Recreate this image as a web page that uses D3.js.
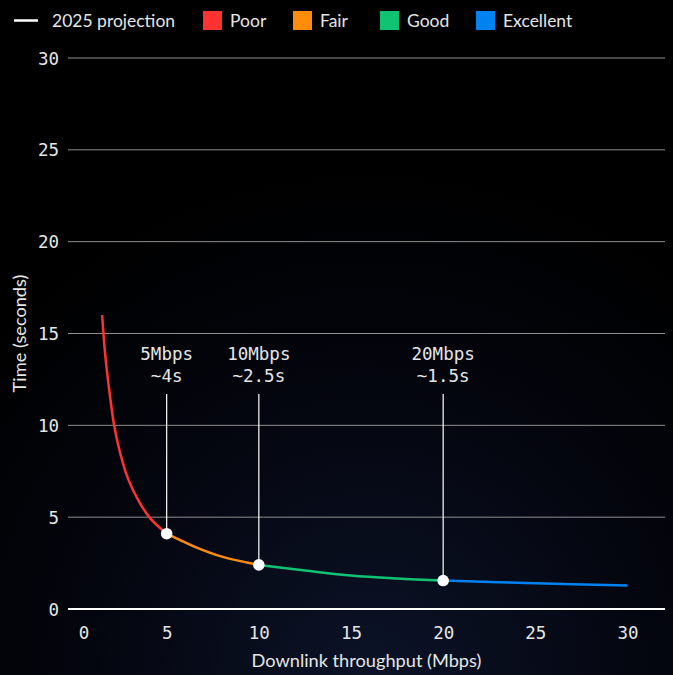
<!DOCTYPE html>
<html>
<head>
<meta charset="utf-8">
<script src="https://cdn.jsdelivr.net/npm/d3@7/dist/d3.min.js"></script>
<style>
  html, body { margin: 0; padding: 0; background: #000; }
  svg { display: block; }
</style>
</head>
<body>
<svg id="chart" width="673" height="675"></svg>
<script>
// ---- data ----
const throughput = [1.5, 1.6, 1.7, 1.9, 2.15, 2.45, 2.9, 3.5, 4.1, 5, 6.5, 8, 10, 12.5, 15, 17.5, 20, 25, 30];
const timeSec    = [16.0, 14.6, 13.5, 11.8, 10.0, 8.6, 7.1, 5.85, 4.95, 4.1, 3.4, 2.85, 2.4, 2.1, 1.82, 1.66, 1.55, 1.4, 1.28];

const categories = ["Poor", "Fair", "Good", "Excellent"];
const catColors  = ["#ff3232", "#ff8c0a", "#0fc373", "#0082f0"];
const catStart   = [1.5, 5, 10, 20];
const catEnd     = [5, 10, 20, 30];

const annotX     = [5, 10, 20];
const annotLine1 = ["5Mbps", "10Mbps", "20Mbps"];
const annotLine2 = ["~4s", "~2.5s", "~1.5s"];

const xTicks = [0, 5, 10, 15, 20, 25, 30];
const yTicks = [0, 5, 10, 15, 20, 25, 30];

const legendLineLabel = "2025 projection";
const xTitle = "Downlink throughput (Mbps)";
const yTitle = "Time (seconds)";

// ---- setup ----
const W = 673, H = 675;
const svg = d3.select("#chart");
const sansFont = "Lato, 'Noto Sans', sans-serif";
const monoFont = "'DejaVu Sans Mono', monospace";

// background
const defs = svg.append("defs");
const rg = defs.append("radialGradient").attr("id", "bg")
  .attr("cx", "0.55").attr("cy", "1.0").attr("r", "0.75");
rg.append("stop").attr("offset", "0%").attr("stop-color", "#0c1328");
rg.append("stop").attr("offset", "55%").attr("stop-color", "#04060f");
rg.append("stop").attr("offset", "100%").attr("stop-color", "#000000");
svg.append("rect").attr("width", W).attr("height", H).attr("fill", "url(#bg)");

const plotLeft = 68, plotRight = 665;
const x = d3.scaleLinear().domain([0, 30]).range([74.5, 627.5]);
const y = d3.scaleLinear().domain([0, 30]).range([609, 58]);

// gridlines
svg.append("g").selectAll("line").data(yTicks.filter(d => d !== 0)).join("line")
  .attr("x1", plotLeft).attr("x2", plotRight)
  .attr("y1", d => y(d)).attr("y2", d => y(d))
  .attr("stroke", "#8f8f8f").attr("stroke-width", 1);

// y axis labels
const yAxis = d3.axisLeft(y).tickValues(yTicks).tickSize(0).tickPadding(0).tickFormat(d3.format("d"));
const gy = svg.append("g").attr("transform", `translate(59,0)`).call(yAxis);
gy.select(".domain").remove();
gy.selectAll("text").attr("font-family", monoFont).attr("font-size", 17.5)
  .attr("fill", "#e6e6e6").attr("text-anchor", "end").attr("dy", "0.35em");

// x axis labels
const xAxis = d3.axisBottom(x).tickValues(xTicks).tickSize(0).tickPadding(0).tickFormat(d3.format("d"));
const gx = svg.append("g").attr("transform", `translate(0,633)`).call(xAxis);
gx.select(".domain").remove();
gx.selectAll("text").attr("font-family", monoFont).attr("font-size", 17.5)
  .attr("fill", "#e6e6e6").attr("dy", "0.35em")
  .attr("dx", d => d === 0 ? 9 : 0);

// zero baseline
svg.append("line").attr("x1", plotLeft).attr("x2", plotRight)
  .attr("y1", y(0)).attr("y2", y(0)).attr("stroke", "#ffffff").attr("stroke-width", 2);

// axis titles
svg.append("text").attr("x", (plotLeft + plotRight) / 2).attr("y", 661)
  .attr("text-anchor", "middle").attr("dy", "0.35em")
  .attr("font-family", sansFont).attr("font-size", 18.2).attr("fill", "#e6e6e6")
  .text(xTitle);
svg.append("text").attr("transform", `translate(20,${(y(0) + y(30)) / 2}) rotate(-90)`)
  .attr("text-anchor", "middle").attr("dy", "0.35em")
  .attr("font-family", sansFont).attr("font-size", 18.2).attr("fill", "#e6e6e6")
  .text(yTitle);

// curve
const pts = throughput.map((v, i) => ({ v, t: timeSec[i] }));
const line = d3.line().x(d => x(d.v)).y(d => y(d.t)).curve(d3.curveCatmullRom.alpha(0.5));
categories.forEach((c, i) => {
  const seg = pts.filter(p => p.v >= catStart[i] && p.v <= catEnd[i]);
  svg.append("path").attr("d", line(seg)).attr("fill", "none")
    .attr("stroke", catColors[i]).attr("stroke-width", 2.5).attr("stroke-linecap", "butt");
});

// annotations
annotX.forEach((v, i) => {
  const p = pts.find(d => d.v === v);
  const cx = x(v), cy = y(p.t);
  svg.append("line").attr("x1", cx).attr("x2", cx).attr("y1", 394).attr("y2", cy)
    .attr("stroke", "#ffffff").attr("stroke-width", 1.2);
  svg.append("circle").attr("cx", cx).attr("cy", cy).attr("r", 5.8).attr("fill", "#ffffff");
  svg.append("text").attr("x", cx).attr("y", 360).attr("text-anchor", "middle")
    .attr("font-family", monoFont).attr("font-size", 17.5).attr("fill", "#e6e6e6")
    .text(annotLine1[i]);
  svg.append("text").attr("x", cx).attr("y", 382).attr("text-anchor", "middle")
    .attr("font-family", monoFont).attr("font-size", 17.5).attr("fill", "#e6e6e6")
    .text(annotLine2[i]);
});

// legend
const lg = svg.append("g");
lg.append("line").attr("x1", 14).attr("x2", 38).attr("y1", 20.5).attr("y2", 20.5)
  .attr("stroke", "#ffffff").attr("stroke-width", 2.5);
lg.append("text").attr("x", 52).attr("y", 20.5).attr("dy", "0.35em")
  .attr("font-family", sansFont).attr("font-size", 17.5).attr("fill", "#e6e6e6")
  .text(legendLineLabel);
const legX = [203, 293, 380, 476];
categories.forEach((c, i) => {
  lg.append("rect").attr("x", legX[i]).attr("y", 11).attr("width", 19).attr("height", 19)
    .attr("fill", catColors[i]);
  lg.append("text").attr("x", legX[i] + 27).attr("y", 20.5).attr("dy", "0.35em")
    .attr("font-family", sansFont).attr("font-size", 17.5).attr("fill", "#e6e6e6")
    .text(c);
});
</script>
</body>
</html>
